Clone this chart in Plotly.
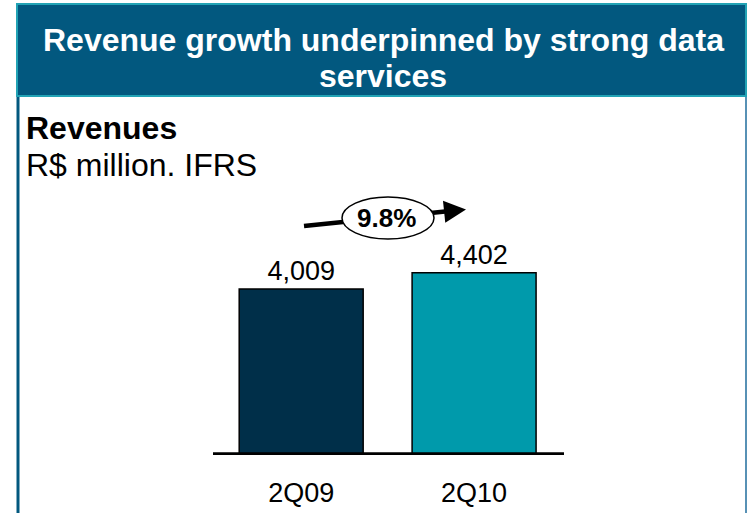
import plotly.graph_objects as go

# Quarterly revenue, R$ million (IFRS)
periods = ["2Q09", "2Q10"]
revenues = [4009, 4402]
bar_colors = ["#002f49", "#009aab"]
growth_label = "9.8%"
title_lines = ["Revenue growth underpinned by strong data", "services"]

W, H = 751, 513
FONT = "Liberation Sans, Arial"


def px_x(x):
    return x / W


def px_y(y):
    return 1 - y / H


fig = go.Figure()
fig.add_trace(go.Bar(
    x=periods,
    y=revenues,
    marker=dict(color=bar_colors, line=dict(color="#000000", width=1.5)),
    width=0.717,
    text=[f"{v:,}" for v in revenues],
    textposition="outside",
    textfont=dict(family=FONT, size=27, color="#000000"),
    cliponaxis=False,
    hoverinfo="skip",
))

# Plot area: zero line at y=455px, scale ~24.15 units per pixel
y_max = 5500
bottom_px = 455
top_px = bottom_px - y_max / 24.15

fig.update_layout(
    width=W,
    height=H,
    margin=dict(l=0, r=0, t=0, b=0),
    paper_bgcolor="white",
    plot_bgcolor="white",
    showlegend=False,
    xaxis=dict(
        domain=[px_x(213), px_x(564)],
        range=[-0.51, 1.52],
        showgrid=False,
        showline=False,
        zeroline=False,
        ticks="",
        tickfont=dict(family=FONT, size=27, color="#000000"),
        ticklabelstandoff=19,
    ),
    yaxis=dict(
        domain=[px_y(bottom_px), px_y(top_px)],
        range=[0, y_max],
        visible=False,
    ),
)

shapes = [
    # header band
    dict(type="rect", xref="paper", yref="paper",
         x0=px_x(17), x1=px_x(746), y0=px_y(96), y1=px_y(4),
         fillcolor="#02587f", line=dict(color="#22a3b5", width=2), layer="below"),
    # panel side borders
    dict(type="line", xref="paper", yref="paper",
         x0=px_x(18), x1=px_x(18), y0=0, y1=px_y(97),
         line=dict(color="#02587f", width=3)),
    dict(type="line", xref="paper", yref="paper",
         x0=px_x(746), x1=px_x(746), y0=0, y1=px_y(97),
         line=dict(color="#1f6c9c", width=1.5)),
    # baseline
    dict(type="line", xref="x domain", yref="y",
         x0=0, x1=1, y0=0, y1=0,
         line=dict(color="#000000", width=5.5), layer="above"),
    # growth arrow shaft
    dict(type="line", xref="paper", yref="paper",
         x0=px_x(304), x1=px_x(450), y0=px_y(226), y1=px_y(211),
         line=dict(color="#000000", width=4.5), layer="above"),
    # ellipse holding the growth figure
    dict(type="circle", xref="paper", yref="paper",
         x0=px_x(342), x1=px_x(434), y0=px_y(239), y1=px_y(197),
         fillcolor="white", line=dict(color="#000000", width=1.5), layer="above"),
]
fig.update_layout(shapes=shapes)

# arrow head
fig.add_annotation(
    xref="paper", yref="paper",
    x=px_x(466), y=px_y(209.5),
    ax=-22, ay=2.3,
    axref="pixel", ayref="pixel",
    text="", showarrow=True,
    arrowhead=2, arrowsize=1.1, arrowwidth=4, arrowcolor="#000000",
)
fig.add_annotation(
    xref="paper", yref="paper", x=px_x(387), y=px_y(218),
    text=f"<b>{growth_label}</b>", showarrow=False,
    font=dict(family=FONT, size=26, color="#000000"),
    xanchor="center", yanchor="middle",
)

# header title, one annotation per line
for line_text, y_center in zip(title_lines, [40, 76]):
    fig.add_annotation(
        xref="paper", yref="paper", x=px_x(383), y=px_y(y_center),
        text=f"<b>{line_text}</b>",
        showarrow=False, align="center",
        font=dict(family=FONT, size=32, color="#ffffff"),
        xanchor="center", yanchor="middle",
    )

# panel subtitle
fig.add_annotation(
    xref="paper", yref="paper", x=px_x(24), y=px_y(128),
    text="<b>Revenues</b>", showarrow=False,
    font=dict(family=FONT, size=32, color="#000000"),
    xanchor="left", yanchor="middle",
)
fig.add_annotation(
    xref="paper", yref="paper", x=px_x(24), y=px_y(165),
    text="R$ million. IFRS", showarrow=False,
    font=dict(family=FONT, size=32, color="#000000"),
    xanchor="left", yanchor="middle",
)

fig.write_html("out.html")
